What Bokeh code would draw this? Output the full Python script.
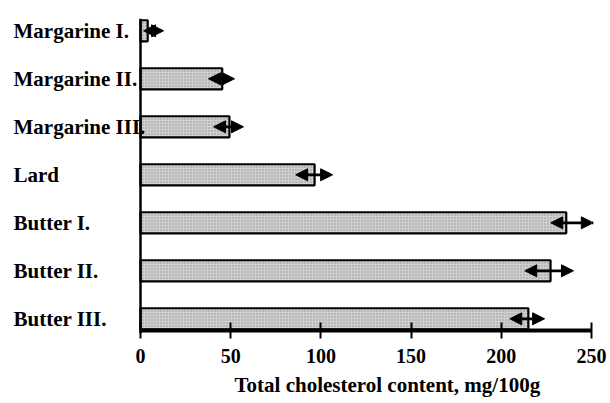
from bokeh.plotting import figure
from bokeh.models import (ColumnDataSource, Range1d, FixedTicker, Title, Span,
                          Arrow, NormalHead)
from bokeh.core.properties import value
from bokeh.embed import file_html
from bokeh.resources import INLINE

# ---- data ----
categories = ["Margarine I.", "Margarine II.", "Margarine III.", "Lard",
              "Butter I.", "Butter II.", "Butter III."]
cholesterol = [4.0, 45.3, 49.3, 96.5, 236.0, 227.3, 215.0]
arrow_low = [1.7, 37.7, 40.5, 86.0, 227.4, 213.0, 204.7]
arrow_high = [12.8, 52.1, 57.1, 106.5, 251.0, 240.0, 224.0]
x_ticks = [0, 50, 100, 150, 200, 250]
x_title = "Total cholesterol content, mg/100g"

n = len(categories)
ypos = [n - 1 - i for i in range(n)]

src = ColumnDataSource(dict(name=categories, val=cholesterol, lo=arrow_low,
                            hi=arrow_high, y=ypos))

FONT = "Liberation Serif"

# frame: canvas x 0..591 (value 0 sits at x=140), canvas y 18..333
PX_PER_UNIT = (591 - 140) / (x_ticks[-1] - x_ticks[0])
x_start = x_ticks[0] - 140 / PX_PER_UNIT
Y_PX = 48.0
y_start = -(333 - 318.3) / Y_PX
y_end = (318.3 - 18) / Y_PX

p = figure(width=610, height=403, output_backend="svg", toolbar_location=None,
           x_range=Range1d(x_start, x_ticks[-1]), y_range=Range1d(y_start, y_end),
           min_border_left=0, min_border_right=19, min_border_top=18,
           min_border_bottom=70)
p.outline_line_color = None
p.grid.visible = False
p.yaxis.visible = False
p.background_fill_color = "white"
p.border_fill_color = "white"

p.hbar(y="y", right="val", left=x_ticks[0], height=0.44, source=src,
       fill_color="#d0d0d0", line_color="black", line_width=2.2,
       hatch_pattern="dot", hatch_color="#909090", hatch_scale=3, hatch_weight=0.6)

# value axis line (only over the tick span) and category axis line
axis_y = -(330 - 318.3) / Y_PX
p.segment(x0=[x_ticks[0]], x1=[x_ticks[-1]], y0=[axis_y], y1=[axis_y],
          line_color="black", line_width=4)
p.add_layout(Span(location=x_ticks[0], dimension="height", line_color="black",
                  line_width=2.5))

arr = Arrow(start=NormalHead(size=12, fill_color="black", line_color="black", line_width=1),
            end=NormalHead(size=12, fill_color="black", line_color="black", line_width=1),
            x_start="lo", x_end="hi", y_start="y", y_end="y", source=src,
            line_width=2.8, line_color="black")
p.add_layout(arr)

# category names, left aligned at canvas x=13
p.text(x=x_ticks[0] - 127 / PX_PER_UNIT, y="y", text="name", source=src,
       text_font=value(FONT), text_font_style="bold", text_font_size="21px",
       text_align="left", text_baseline="middle", text_color="black")

xa = p.xaxis[0]
xa.ticker = FixedTicker(ticks=x_ticks)
xa.axis_line_color = None
xa.major_tick_in = 11
xa.major_tick_out = 5
xa.major_tick_line_width = 2
xa.major_tick_line_color = "black"
xa.minor_tick_line_color = None
xa.major_label_standoff = 10
xa.major_label_text_font = FONT
xa.major_label_text_font_style = "bold"
xa.major_label_text_font_size = "20px"
xa.major_label_text_color = "black"

title = Title(text=x_title, align="left", offset=234, standoff=10,
              text_font=FONT, text_font_style="bold", text_font_size="21px",
              text_color="black")
p.add_layout(title, "below")

open("out.html", "w").write(file_html(p, INLINE))
